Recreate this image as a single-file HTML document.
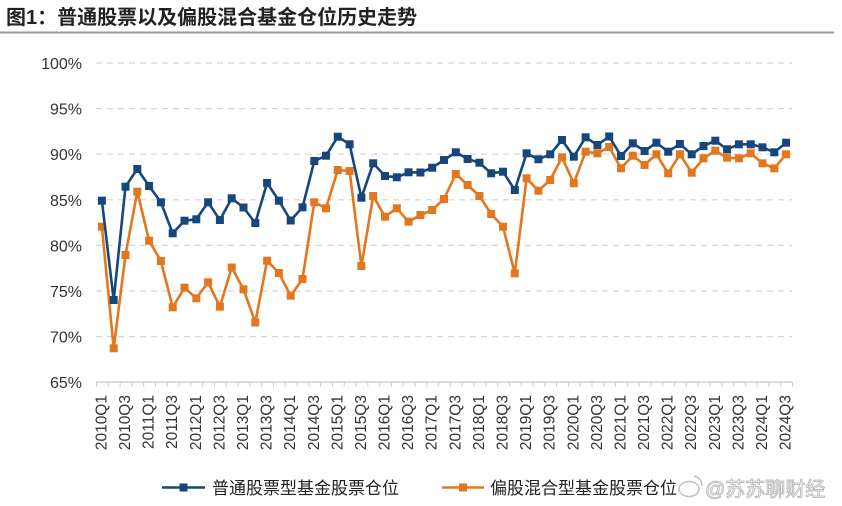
<!DOCTYPE html>
<html><head><meta charset="utf-8"><style>
html,body{margin:0;padding:0;background:#fff;}
svg{display:block;}
text{font-family:"Liberation Sans","Noto Sans CJK SC",sans-serif;}
</style></head><body>
<svg width="842" height="506" viewBox="0 0 842 506" xmlns="http://www.w3.org/2000/svg">
<defs>
<marker id="mb" markerUnits="userSpaceOnUse" markerWidth="9" markerHeight="9" refX="4.5" refY="4.5" viewBox="0 0 9 9"><rect x="0.5" y="0.5" width="8" height="8" fill="#17477a"/></marker>
<marker id="mo" markerUnits="userSpaceOnUse" markerWidth="9" markerHeight="9" refX="4.5" refY="4.5" viewBox="0 0 9 9"><rect x="0.5" y="0.5" width="8" height="8" fill="#e2771f"/></marker>
</defs>
<text x="6" y="24" font-size="20" font-weight="bold" fill="#222" style='font-family:"Liberation Sans","Noto Sans CJK SC",sans-serif'>图1：普通股票以及偏股混合基金仓位历史走势</text>
<line x1="0" y1="32.5" x2="834" y2="32.5" stroke="#9a9a9a" stroke-width="2"/>
<g stroke="#d4d4d4" stroke-width="1.2" stroke-dasharray="6 5">
<line x1="96" y1="63" x2="792" y2="63"/>
<line x1="96" y1="108.6" x2="792" y2="108.6"/>
<line x1="96" y1="154.2" x2="792" y2="154.2"/>
<line x1="96" y1="199.8" x2="792" y2="199.8"/>
<line x1="96" y1="245.4" x2="792" y2="245.4"/>
<line x1="96" y1="291" x2="792" y2="291"/>
<line x1="96" y1="336.6" x2="792" y2="336.6"/>
</g>
<line x1="96" y1="382" x2="792" y2="382" stroke="#d0d0d0" stroke-width="1.5"/>
<line x1="96" y1="384.5" x2="793" y2="384.5" stroke="#d0d0d0" stroke-width="5" stroke-dasharray="1 10.797"/>
<g font-size="16" fill="#333" text-anchor="end">
<text x="82" y="69">100%</text>
<text x="82" y="114.6">95%</text>
<text x="82" y="160.2">90%</text>
<text x="82" y="205.8">85%</text>
<text x="82" y="251.4">80%</text>
<text x="82" y="297">75%</text>
<text x="82" y="342.6">70%</text>
<text x="82" y="388">65%</text>
</g>
<g font-size="15.5" fill="#333" text-anchor="end" dominant-baseline="central">
<text transform="translate(101.9,395) rotate(-90)">2010Q1</text>
<text transform="translate(125.5,395) rotate(-90)">2010Q3</text>
<text transform="translate(149.1,395) rotate(-90)">2011Q1</text>
<text transform="translate(172.7,395) rotate(-90)">2011Q3</text>
<text transform="translate(196.3,395) rotate(-90)">2012Q1</text>
<text transform="translate(219.9,395) rotate(-90)">2012Q3</text>
<text transform="translate(243.5,395) rotate(-90)">2013Q1</text>
<text transform="translate(267.1,395) rotate(-90)">2013Q3</text>
<text transform="translate(290.7,395) rotate(-90)">2014Q1</text>
<text transform="translate(314.3,395) rotate(-90)">2014Q3</text>
<text transform="translate(337.8,395) rotate(-90)">2015Q1</text>
<text transform="translate(361.4,395) rotate(-90)">2015Q3</text>
<text transform="translate(385.0,395) rotate(-90)">2016Q1</text>
<text transform="translate(408.6,395) rotate(-90)">2016Q3</text>
<text transform="translate(432.2,395) rotate(-90)">2017Q1</text>
<text transform="translate(455.8,395) rotate(-90)">2017Q3</text>
<text transform="translate(479.4,395) rotate(-90)">2018Q1</text>
<text transform="translate(503.0,395) rotate(-90)">2018Q3</text>
<text transform="translate(526.6,395) rotate(-90)">2019Q1</text>
<text transform="translate(550.2,395) rotate(-90)">2019Q3</text>
<text transform="translate(573.8,395) rotate(-90)">2020Q1</text>
<text transform="translate(597.4,395) rotate(-90)">2020Q3</text>
<text transform="translate(621.0,395) rotate(-90)">2021Q1</text>
<text transform="translate(644.6,395) rotate(-90)">2021Q3</text>
<text transform="translate(668.2,395) rotate(-90)">2022Q1</text>
<text transform="translate(691.7,395) rotate(-90)">2022Q3</text>
<text transform="translate(715.3,395) rotate(-90)">2023Q1</text>
<text transform="translate(738.9,395) rotate(-90)">2023Q3</text>
<text transform="translate(762.5,395) rotate(-90)">2024Q1</text>
<text transform="translate(786.1,395) rotate(-90)">2024Q3</text>
</g>
<polyline fill="none" stroke="#e2771f" stroke-width="2.6" stroke-linejoin="round" marker-start="url(#mo)" marker-mid="url(#mo)" marker-end="url(#mo)" points="101.9,226.7 113.7,348.3 125.5,255 137.3,191.7 149.1,240.7 160.9,261 172.7,307.3 184.5,287.7 196.3,298.3 208.1,282.3 219.9,306.7 231.7,267.5 243.5,289.3 255.3,322.5 267.1,260.7 278.9,273 290.7,295.7 302.5,279 314.3,202.3 326.0,208.3 337.8,170 349.6,171 361.4,266 373.2,196 385.0,216.7 396.8,208.3 408.6,221.7 420.4,215 432.2,210 444.0,199 455.8,174 467.6,185 479.4,196 491.2,214 503.0,226.7 514.8,273.3 526.6,178.3 538.4,190.7 550.2,180 562.0,157.3 573.8,183.3 585.6,151.7 597.4,153.3 609.2,147 621.0,168.3 632.8,155.7 644.6,165 656.4,154.3 668.2,173.3 679.9,154.3 691.7,172.7 703.5,158.3 715.3,150.7 727.1,157.7 738.9,158.3 750.7,153.3 762.5,163.3 774.3,168.3 786.1,154.3"/>
<polyline fill="none" stroke="#17477a" stroke-width="2.6" stroke-linejoin="round" marker-start="url(#mb)" marker-mid="url(#mb)" marker-end="url(#mb)" points="101.9,200.7 113.7,300 125.5,186.7 137.3,169 149.1,186 160.9,202.3 172.7,233.3 184.5,220.7 196.3,219.3 208.1,202.3 219.9,220 231.7,198.3 243.5,207.5 255.3,223 267.1,183 278.9,200.7 290.7,220.5 302.5,207.3 314.3,161 326.0,155.7 337.8,136.7 349.6,144.3 361.4,197.7 373.2,163.3 385.0,176 396.8,177.3 408.6,172.3 420.4,172.5 432.2,167.7 444.0,160 455.8,152.3 467.6,159 479.4,162.7 491.2,173.3 503.0,171.7 514.8,190 526.6,153.3 538.4,159.3 550.2,154.3 562.0,140 573.8,156.7 585.6,137.3 597.4,145 609.2,136.5 621.0,156 632.8,143.3 644.6,151 656.4,142.7 668.2,151.7 679.9,144 691.7,154.3 703.5,146 715.3,140.7 727.1,149.3 738.9,144.3 750.7,144.3 762.5,147.3 774.3,152.3 786.1,142.7"/>
<line x1="162" y1="487.5" x2="205" y2="487.5" stroke="#17477a" stroke-width="2.6"/>
<rect x="179.5" y="483.5" width="8" height="8" fill="#17477a"/>
<text x="212" y="494" font-size="17" fill="#222">普通股票型基金股票仓位</text>
<line x1="442" y1="487.5" x2="484" y2="487.5" stroke="#e2771f" stroke-width="2.6"/>
<rect x="459" y="483.5" width="8" height="8" fill="#e2771f"/>
<text x="490" y="494" font-size="17" fill="#222">偏股混合型基金股票仓位</text>
<g opacity="0.85">
<ellipse cx="689" cy="489" rx="10" ry="7.5" fill="none" stroke="#b5b5b5" stroke-width="1.5"/>
<path d="M694,476 q8,2 8,10" fill="none" stroke="#b5b5b5" stroke-width="1.5"/>
<text x="705" y="496" font-size="20" fill="#fff" stroke="#b0b0b0" stroke-width="0.9">@苏苏聊财经</text>
</g>
</svg>
</body></html>
